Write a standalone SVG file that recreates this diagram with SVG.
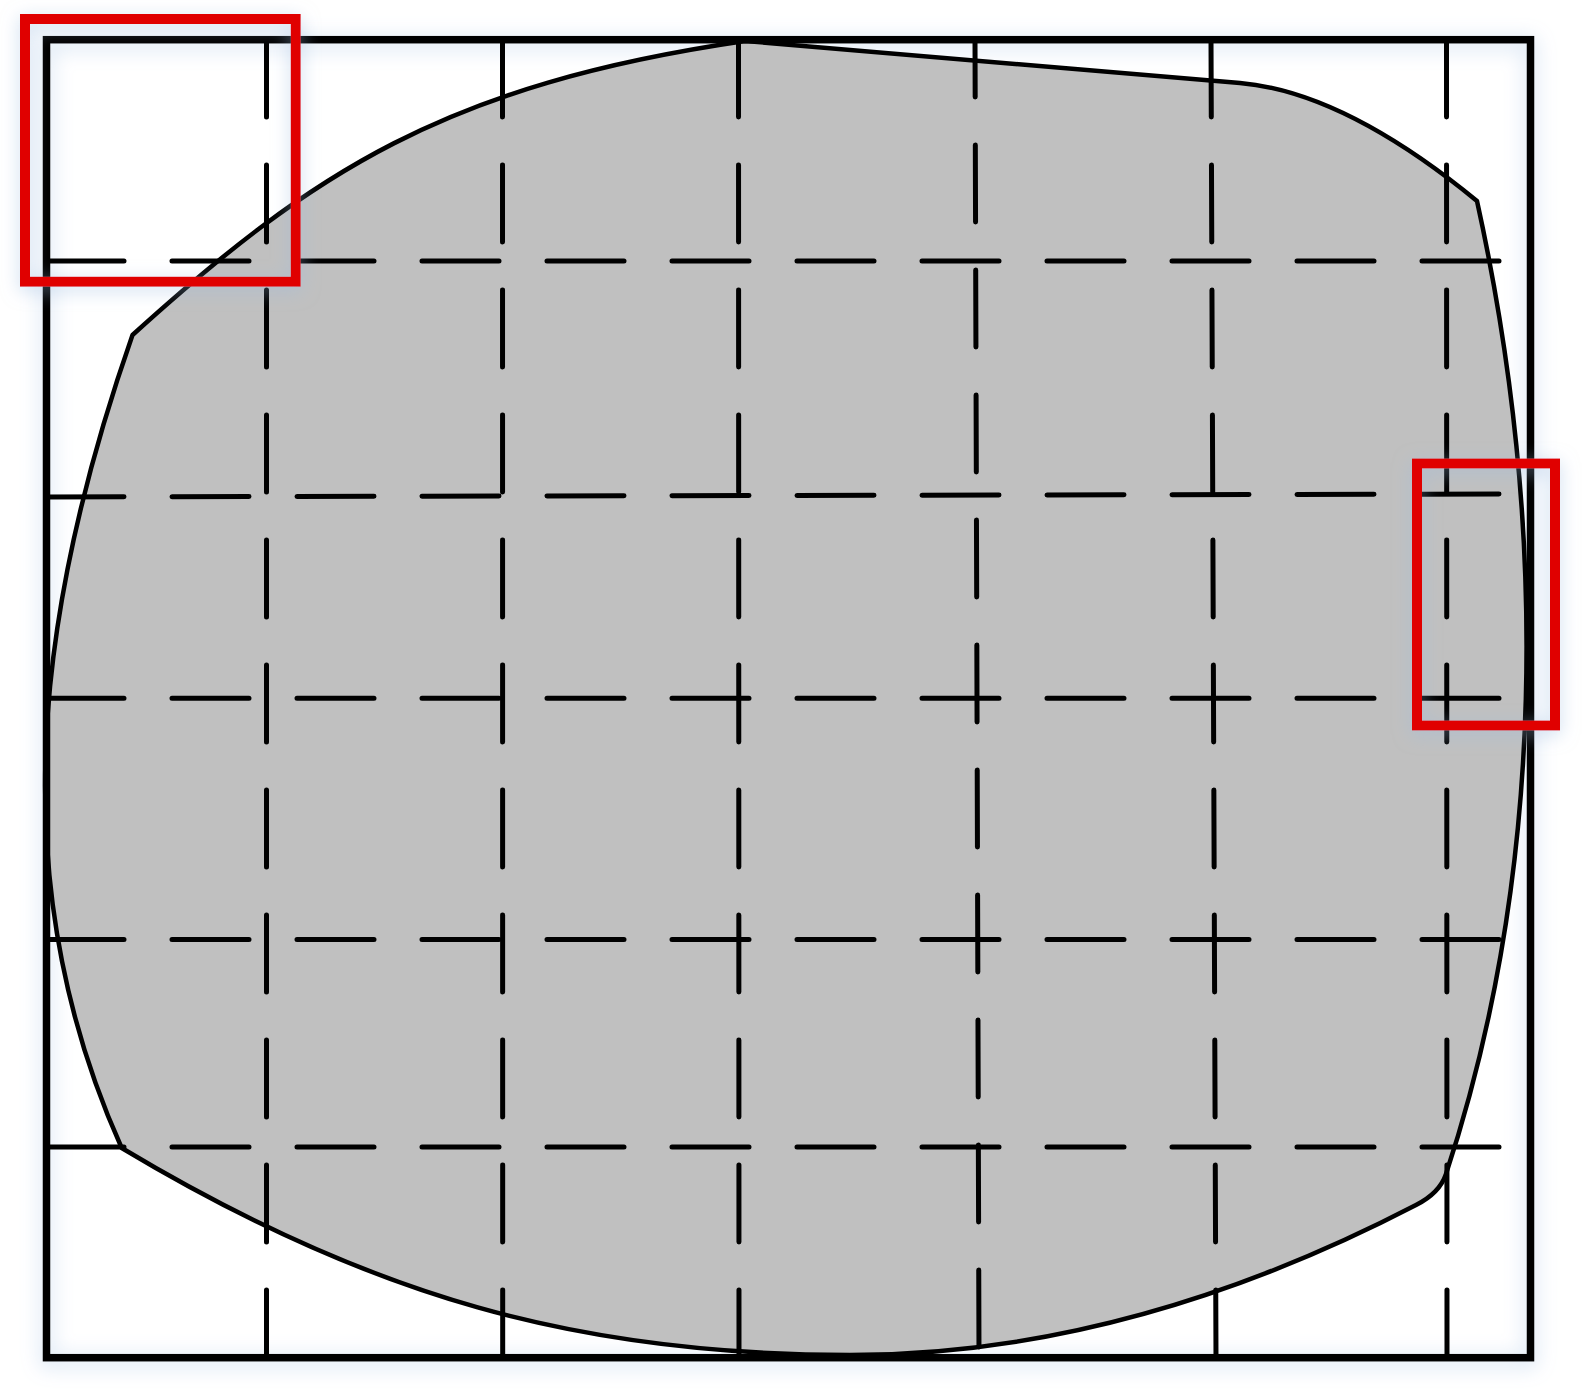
<svg xmlns="http://www.w3.org/2000/svg" width="1586" height="1393" viewBox="0 0 1586 1393">
  <defs>
    <filter id="glow" x="-10%" y="-10%" width="120%" height="120%">
      <feGaussianBlur in="SourceAlpha" stdDeviation="9" result="b"/>
      <feOffset in="b" dy="4" result="bo"/>
      <feFlood flood-color="#9fbde0" flood-opacity="0.55"/>
      <feComposite in2="bo" operator="in" result="s"/>
      <feMerge><feMergeNode in="s"/><feMergeNode in="SourceGraphic"/></feMerge>
    </filter>
    <filter id="halo" x="-5%" y="-5%" width="110%" height="110%">
      <feGaussianBlur in="SourceAlpha" stdDeviation="10" result="b"/>
      <feOffset in="b" dy="4" result="bo"/>
      <feFlood flood-color="#a8c4e6" flood-opacity="0.5"/>
      <feComposite in2="bo" operator="in"/>
    </filter>
    <style>
      .blob { fill: #c0c0c0; stroke: #000; stroke-width: 4.5; stroke-linejoin: round; }
      .grid { stroke: #000; stroke-width: 5; stroke-linecap: round; stroke-dasharray: 77 48; fill: none; }
      .frame { fill: none; stroke: #000; stroke-width: 7.5; }
      .hl { fill: none; stroke: #e00000; stroke-width: 10; }
    </style>
  </defs>
  <rect width="1586" height="1393" fill="#ffffff"/>

  <g id="frame-glow" filter="url(#halo)">
    <rect x="46.5" y="39.7" width="1484" height="1318" fill="none" stroke="#000" stroke-width="10"/>
  </g>

  <g id="region">
    <path class="blob" d="M 745 41 L 1240 83 Q 1344 92 1477 201 C 1549.6 531 1545 874 1446 1174 Q 1439.7 1193 1416 1205 C 1223.6 1305 1035 1355 850 1355 C 580 1355 370 1297 121.7 1148 C 0.2 878 38 605 132.5 335 C 312.5 172 445 85 745 41 Z"/>
  </g>

  <g id="grid">
    <line class="grid" x1="47" y1="261" x2="1499" y2="261"/>
    <line class="grid" x1="47" y1="497" x2="1499" y2="494"/>
    <line class="grid" x1="47" y1="698.3" x2="1499" y2="698.3"/>
    <line class="grid" x1="47" y1="939.5" x2="1499" y2="939.5"/>
    <line class="grid" x1="47" y1="1147" x2="1499" y2="1147"/>

    <line class="grid" x1="266.5" y1="40" x2="266.5" y2="1358"/>
    <line class="grid" x1="502.5" y1="40" x2="502.7" y2="1358"/>
    <line class="grid" x1="738.5" y1="40" x2="739" y2="1358"/>
    <line class="grid" x1="975" y1="40" x2="979" y2="1358" stroke-dashoffset="20"/>
    <line class="grid" x1="1211" y1="40" x2="1216" y2="1358"/>
    <line class="grid" x1="1446.5" y1="40" x2="1447" y2="1358"/>
  </g>

  <g id="frame">
    <rect class="frame" x="46.5" y="39.7" width="1484" height="1318"/>
  </g>

  <g id="highlights" filter="url(#glow)">
    <rect id="highlight-1" class="hl" x="25" y="19" width="270.7" height="262.7"/>
    <rect id="highlight-2" class="hl" x="1417" y="463.5" width="138" height="262"/>
  </g>
</svg>
